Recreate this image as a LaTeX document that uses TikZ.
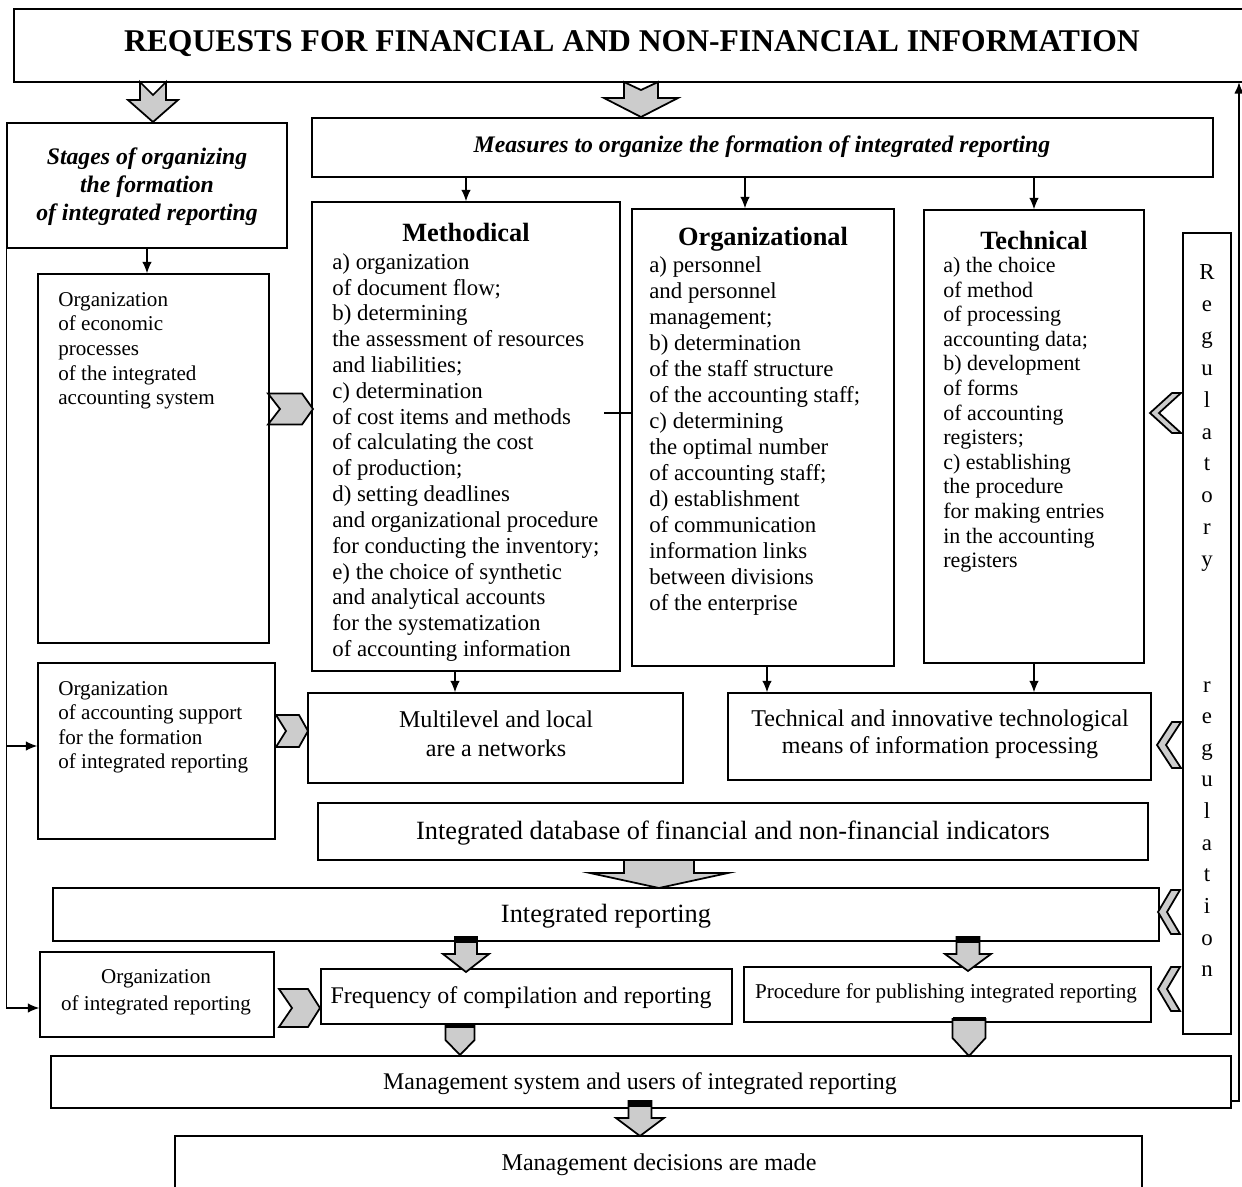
\documentclass[tikz,border=0pt]{standalone}
\usepackage{fontspec}
\setmainfont{Liberation Serif}
\usetikzlibrary{arrows.meta, fit, calc}

\colorlet{arrowgray}{black!20}
\newcommand{\setfs}[2]{\fontsize{#1}{#2}\selectfont}

% gray block arrow pointing down: centre x, shaft half, head half, top, notch, head start, tip
\newcommand{\notchedarrow}[7]{%
  \draw[blockarrow] ({#1-#2},#4) -- (#1,#5) -- ({#1+#2},#4) -- ({#1+#2},#6) -- ({#1+#3},#6)
    -- (#1,#7) -- ({#1-#3},#6) -- ({#1-#2},#6) -- cycle;}
% same arrow with a black cap on the shaft
\newcommand{\cappedarrow}[7]{%
  \notchedarrow{#1}{#2}{#3}{#4}{#4}{#6}{#7}
  \fill[black] ({#1-#2},#4) rectangle ({#1+#2},#5);}
% pentagon pointing down: centre x, half width, top, side bottom, tip
\newcommand{\pentarrow}[5]{%
  \draw[blockarrow] ({#1-#2},#3) -- ({#1+#2},#3) -- ({#1+#2},#4) -- (#1,#5) -- ({#1-#2},#4) -- cycle;
  \draw[line width=1.8pt] ({#1-#2},#3) -- ({#1+#2},#3);}
% chevron pointing right: left, right, centre y, half height, notch, tip
\newcommand{\rchevron}[6]{%
  \draw[blockarrow] (#1,{#3-#4}) -- ({#2-#6},{#3-#4}) -- (#2,#3) -- ({#2-#6},{#3+#4})
    -- (#1,{#3+#4}) -- ({#1+#5},#3) -- cycle;}
% chevron pointing left: tip x, right, centre y, half height, thickness
\newcommand{\lchevron}[5]{%
  \draw[blockarrow] ({#2-#5},{#3-#4}) -- (#2,{#3-#4}) -- ({#1+#5},#3) -- (#2,{#3+#4})
    -- ({#2-#5},{#3+#4}) -- (#1,#3) -- cycle;}

\tikzset{
  box/.style={draw, line width=0.8pt, inner sep=0pt},
  conn/.style={-{Latex[length=2.3mm,width=1.9mm]}, line width=0.7pt},
  blockarrow/.style={draw, line width=1pt, fill=arrowgray, line join=miter},
  items/.style={anchor=north west, align=left, inner sep=0pt},
  label/.style={align=center, inner sep=0pt},
}

\begin{document}
\begin{tikzpicture}[x=0.02cm, y=-0.02cm]
\useasboundingbox (0,0) rectangle (1242,1187);

	% boxes
	\node[box, fit={(14,9) (1250,82)}] (requests) {};
	\node[box, fit={(7,123) (287,248)}] (stages) {};
	\node[box, fit={(312,118) (1213,177)}] (measures) {};
	\node[box, fit={(312,202) (620,671)}] (method) {};
	\node[box, fit={(632,209) (894,666)}] (organiz) {};
	\node[box, fit={(924,210) (1144,663)}] (techn) {};
	\node[box, fit={(1183,233) (1231,1034)}] (regul) {};
	\node[box, fit={(38,274) (269,643)}] (orgecon) {};
	\node[box, fit={(38,663) (275,839)}] (orgsupport) {};
	\node[box, fit={(308,693) (683,783)}] (multi) {};
	\node[box, fit={(728,693) (1151,780)}] (techinnov) {};
	\node[box, fit={(318,803) (1148,860)}] (database) {};
	\node[box, fit={(53,888) (1159,941)}] (intrep) {};
	\node[box, fit={(40,952) (274,1037)}] (orgreport) {};
	\node[box, fit={(321,969) (732,1024)}] (freq) {};
	\node[box, fit={(744,967) (1151,1022)}] (proc) {};
	\node[box, fit={(51,1056) (1231,1108)}] (mgmt) {};
	\node[box, fit={(175,1136) (1142,1200)}] (decis) {};

	% texts
	\node[label, font=\setfs{18}{21}\bfseries] (requeststext) at (632,44) {REQUESTS FOR FINANCIAL AND NON-FINANCIAL INFORMATION};
	\node[label, font=\setfs{13.5}{16}\bfseries\itshape] (stagestext) at (147,187) {Stages of organizing\\the formation\\of integrated reporting};
	\node[label, font=\setfs{13.5}{16}\bfseries\itshape] (measurestext) at (762,147) {Measures to organize the formation of integrated reporting};

	\node[label, font=\setfs{15}{18}\bfseries] (methodtitle) at (466,232) {Methodical};
	\node[items, font=\setfs{13}{14.7}] (methodlist) at (332,253) {a) organization\\of document flow;\\b) determining\\the assessment of resources\\and liabilities;\\c) determination\\of cost items and methods\\of calculating the cost\\of production;\\d) setting deadlines\\and organizational procedure\\for conducting the inventory;\\e) the choice of synthetic\\and analytical accounts\\for the systematization\\of accounting information};

	\node[label, font=\setfs{15}{18}\bfseries] (organiztitle) at (763,239) {Organizational};
	\node[items, font=\setfs{13}{14.8}] (organizlist) at (649,256) {a) personnel\\and personnel\\management;\\b) determination\\of the staff structure\\of the accounting staff;\\c) determining\\the optimal number\\of accounting staff;\\d) establishment\\of communication\\information links\\between divisions\\of the enterprise};

	\node[label, font=\setfs{15}{18}\bfseries] (techntitle) at (1034,240) {Technical};
	\node[items, font=\setfs{12.5}{14}] (technlist) at (943,257) {a) the choice\\of method\\of processing\\accounting data;\\b) development\\of forms\\of accounting\\registers;\\c) establishing\\the procedure\\for making entries\\in the accounting\\registers};

	\node[items, font=\setfs{12}{14}] (orgecontext) at (58,292) {Organization\\of economic\\processes\\of the integrated\\accounting system};
	\node[items, font=\setfs{12}{13.9}] (orgsupporttext) at (58,681) {Organization\\of accounting support\\for the formation\\of integrated reporting};

	\node[label, font=\setfs{13.7}{16.5}] (multitext) at (496,734) {Multilevel and local\\are a networks};
	\node[label, font=\setfs{13.7}{15.5}] (techinnovtext) at (940,734) {Technical and innovative technological\\means of information processing};
	\node[label, font=\setfs{15}{18}] (databasetext) at (733,833) {Integrated database of financial and non-financial indicators};
	\node[label, font=\setfs{15}{18}] (intreptext) at (606,916) {Integrated reporting};
	\node[label, font=\setfs{12}{15.4}] (orgreporttext) at (156,992) {Organization\\of integrated reporting};
	\node[label, font=\setfs{13.6}{16}] (freqtext) at (521,998) {Frequency of compilation and reporting};
	\node[label, font=\setfs{12}{14}] (proctext) at (946,993) {Procedure for publishing integrated reporting};
	\node[label, font=\setfs{13.6}{16}] (mgmttext) at (640,1084) {Management system and users of integrated reporting};
	\node[label, font=\setfs{13.7}{16}] (decistext) at (659,1165) {Management decisions are made};

	\node[label, font=\setfs{13}{18.2}] (regultop) at (1207,418) {R\\e\\g\\u\\l\\a\\t\\o\\r\\y};
	\node[label, font=\setfs{13}{18}] (regulbottom) at (1207,829) {r\\e\\g\\u\\l\\a\\t\\i\\o\\n};

	% thin connectors
	\draw[conn] (measures.south -| method.north) -- (method.north);
	\draw[conn] ([xshift=-0.36cm]organiz.north |- measures.south) -- ([xshift=-0.36cm]organiz.north);
	\draw[conn] (measures.south -| techn.north) -- (techn.north);
	\draw[conn] ([xshift=-0.22cm]method.south) -- ([xshift=-0.22cm]method.south |- multi.north);
	\draw[conn] ([xshift=0.08cm]organiz.south) -- ([xshift=0.08cm]organiz.south |- techinnov.north);
	\draw[conn] (techn.south) -- (techn.south |- techinnov.north);
	\draw[conn] (stages.south) -- (stages.south |- orgecon.north);
	\draw[conn] (stages.south west) |- ([yshift=0.1cm]orgsupport.west);
	\draw[conn] (stages.south west) |- ([yshift=-0.27cm]orgreport.west);
	\coordinate (mlink) at (604,413);
	\draw[line width=0.7pt] (mlink) -- (mlink -| organiz.west);
	\coordinate (rtop) at (1239,82);
	\draw[conn, line width=1.2pt] ([yshift=-0.38cm]mgmt.east) -| (rtop);

	% gray arrows
	\notchedarrow{153}{13}{25}{82}{95}{100}{122}
	\notchedarrow{641}{17}{37}{82}{90}{98}{117}
	\notchedarrow{659}{35}{69}{860}{860}{873}{888}
	\cappedarrow{466}{11}{23}{937}{943}{954}{972}
	\cappedarrow{968}{11.5}{23}{937}{943}{954}{971}
	\cappedarrow{640}{11.5}{24}{1101}{1107}{1118}{1136}
	\pentarrow{460}{14.5}{1026}{1040}{1055}
	\pentarrow{969}{16.5}{1019}{1038}{1056}

	% chevrons
	\rchevron{268}{313}{409}{15.5}{12}{11}
	\rchevron{276}{308}{731}{16}{10}{9}
	\rchevron{279}{320}{1008}{19}{13}{12}
	\lchevron{1150}{1181}{413}{20}{9}
	\lchevron{1157}{1181}{745}{23}{9}
	\lchevron{1158}{1180}{912}{22}{9}
	\lchevron{1158}{1180}{989}{22}{9}

\end{tikzpicture}
\end{document}
